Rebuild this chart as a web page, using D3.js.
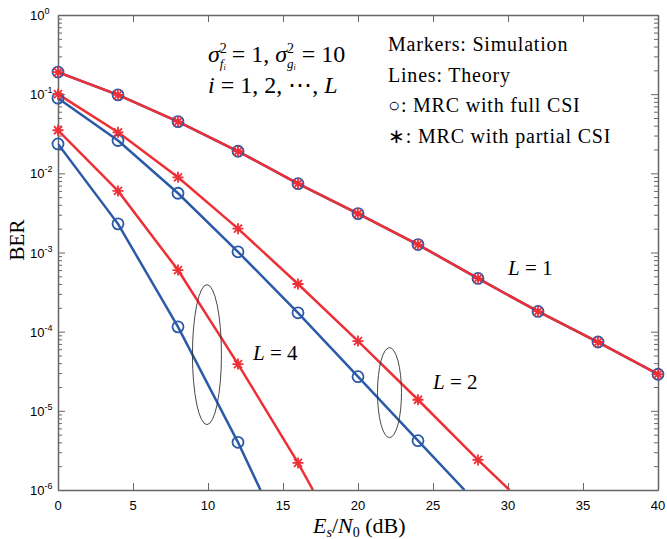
<!DOCTYPE html>
<html>
<head>
<meta charset="utf-8">
<script src="https://cdn.jsdelivr.net/npm/d3@7"></script>
<style>
  body { margin: 0; background: #fff; }
  .tick text { display: none; }
</style>
</head>
<body>
<script>
// data
const snr = [0, 4, 8, 12, 16, 20, 24, 28, 32, 36, 40];

// simulation markers (BER)
const fullL1 = [0.19, 0.098, 0.045, 0.019, 0.0074, 0.0031, 0.00126, 4.7e-4, 1.8e-4, 7.4e-5, 2.9e-5];
const partL1 = [0.19, 0.098, 0.045, 0.019, 0.0074, 0.0031, 0.00126, 4.7e-4, 1.8e-4, 7.4e-5, 2.9e-5];
const fullL2 = [0.089, 0.026, 0.0056, 1.02e-3, 1.73e-4, 2.7e-5, 4.2e-6];
const partL2 = [0.1, 0.033, 0.0089, 0.002, 4.0e-4, 7.6e-5, 1.38e-5, 2.4e-6];
const fullL4 = [0.0235, 2.3e-3, 1.15e-4, 4.0e-6];
const partL4 = [0.035, 6.0e-3, 6.0e-4, 3.9e-5, 2.2e-6];

// where each theory line leaves the bottom of the plot (x at BER = 1e-6)
const endX = { fullL2: 27.1, partL2: 30.1, fullL4: 13.5, partL4: 17.0 };

const xTicks = [0, 5, 10, 15, 20, 25, 30, 35, 40];
const yExps = [0, -1, -2, -3, -4, -5, -6];

const red = "#ee2f36", blue = "#2a5aa8";

const margin = { top: 15, right: 9, bottom: 49, left: 58 },
  width = 667 - margin.left - margin.right,
  height = 539 - margin.top - margin.bottom;

const x = d3.scaleLinear().domain([0, 40]).range([0, width]);
const y = d3.scaleLog().domain([1e-6, 1]).range([height, 0]);

const svg = d3.select("body").append("svg")
  .attr("width", 667).attr("height", 539)
  .append("g")
  .attr("transform", `translate(${margin.left},${margin.top})`);

//minor ticks
const minor = [];
yExps.slice(1).forEach(e => { for (let k = 2; k <= 9; k++) minor.push(k * Math.pow(10, e)); });

const axisColor = "#666";
function styleAxis(g) {
  g.select(".domain").attr("stroke", axisColor).attr("stroke-width", 1.5);
  g.selectAll(".tick line").attr("stroke", axisColor).attr("stroke-width", 1);
}

svg.append("g").attr("transform", `translate(0,${height})`)
  .call(d3.axisBottom(x).tickValues(xTicks).tickSizeInner(-7).tickSizeOuter(0)).call(styleAxis);
svg.append("g")
  .call(d3.axisTop(x).tickValues(xTicks).tickSizeInner(-7).tickSizeOuter(0)).call(styleAxis);
svg.append("g")
  .call(d3.axisLeft(y).tickValues(yExps.map(e => Math.pow(10, e))).tickSizeInner(-7).tickSizeOuter(0)).call(styleAxis);
svg.append("g")
  .call(d3.axisLeft(y).tickValues(minor).tickSizeInner(-4).tickSizeOuter(0)).call(styleAxis)
  .select(".domain").remove();
svg.append("g").attr("transform", `translate(${width},0)`)
  .call(d3.axisRight(y).tickValues(yExps.map(e => Math.pow(10, e))).tickSizeInner(-7).tickSizeOuter(0)).call(styleAxis);
svg.append("g").attr("transform", `translate(${width},0)`)
  .call(d3.axisRight(y).tickValues(minor).tickSizeInner(-4).tickSizeOuter(0)).call(styleAxis)
  .select(".domain").remove();

// tick labels
svg.append("g").selectAll("text").data(xTicks).enter().append("text")
  .attr("x", d => x(d)).attr("y", height + 20)
  .attr("text-anchor", "middle")
  .style("font-family", "Liberation Sans, Arial, sans-serif").style("font-size", "13px")
  .text(d => d);

const yl = svg.append("g").selectAll("text").data(yExps).enter().append("text")
  .attr("x", -28).attr("y", d => y(Math.pow(10, d)) + 5)
  .style("font-family", "Liberation Sans, Arial, sans-serif").style("font-size", "13px");
yl.append("tspan").text("10");
yl.append("tspan").attr("dy", -6).style("font-size", "9px").text(d => d);

// clip for lines
svg.append("clipPath").attr("id", "clip").append("rect")
  .attr("width", width).attr("height", height);

const line = d3.line().x(d => x(d[0])).y(d => y(d[1]));

function theory(vals, xend) {
  const pts = vals.map((v, i) => [snr[i], v]);
  if (xend !== undefined) pts.push([xend, 1e-6]);
  return pts;
}

const plot = svg.append("g").attr("clip-path", "url(#clip)");

const curves = [
  { pts: theory(fullL4, endX.fullL4), c: blue },
  { pts: theory(partL4, endX.partL4), c: red },
  { pts: theory(fullL2, endX.fullL2), c: blue },
  { pts: theory(partL2, endX.partL2), c: red },
  { pts: theory(fullL1), c: blue },
  { pts: theory(partL1), c: red }
];
curves.forEach(cv => {
  plot.append("path").datum(cv.pts)
    .attr("d", line).attr("fill", "none")
    .attr("stroke", cv.c).attr("stroke-width", 2.5);
});

// circles (full CSI)
[fullL1, fullL2, fullL4].forEach(arr => {
  svg.append("g").selectAll("circle").data(arr).enter().append("circle")
    .attr("cx", (d, i) => x(snr[i])).attr("cy", d => y(d))
    .attr("r", 5.5).attr("fill", "none")
    .attr("stroke", blue).attr("stroke-width", 1.8);
});

// stars (partial CSI)
const star = "M-5.5,0L5.5,0M0,-5.5L0,5.5M-4,-4L4,4M-4,4L4,-4";
[partL1, partL2, partL4].forEach(arr => {
  svg.append("g").selectAll("path").data(arr).enter().append("path")
    .attr("transform", (d, i) => `translate(${x(snr[i])},${y(d)})`)
    .attr("d", star).attr("fill", "none")
    .attr("stroke", red).attr("stroke-width", 1.8);
});

// ellipses
const ellipses = [
  { cx: 9.93, cy: Math.pow(10, -4.29), rx: 14.5, ry: 70 },
  { cx: 22.1, cy: Math.pow(10, -4.77), rx: 12, ry: 45 }
];
svg.selectAll(".ell").data(ellipses).enter().append("ellipse")
  .attr("cx", d => x(d.cx)).attr("cy", d => y(d.cy))
  .attr("rx", d => d.rx).attr("ry", d => d.ry)
  .attr("fill", "none").attr("stroke", "#333").attr("stroke-width", 0.9);

const serif = "Liberation Serif, Times New Roman, serif";

// L labels
const lLabels = [
  { t: "4", x: 13.0, y: Math.pow(10, -4.36) },
  { t: "2", x: 25.0, y: Math.pow(10, -4.73) },
  { t: "1", x: 30.0, y: Math.pow(10, -3.28) }
];
const ll = svg.selectAll(".llab").data(lLabels).enter().append("text")
  .attr("x", d => x(d.x)).attr("y", d => y(d.y))
  .style("font-family", serif).style("font-size", "21px");
ll.append("tspan").style("font-style", "italic").text("L");
ll.append("tspan").text(d => " = " + d.t);

// parameter text
const p1 = svg.append("text").attr("x", 208 - margin.left).attr("y", 62 - margin.top)
  .style("font-family", serif).style("font-size", "24px");
p1.append("tspan").style("font-style", "italic").text("σ");
p1.append("tspan").attr("dy", -9).style("font-size", "14px").text("2");
p1.append("tspan").attr("dx", -7).attr("dy", 15).style("font-size", "13px").style("font-style", "italic").text("f");
p1.append("tspan").attr("dy", 2).style("font-size", "8px").style("font-style", "italic").text("i");
p1.append("tspan").attr("dy", -8).text(" = 1, ");
p1.append("tspan").style("font-style", "italic").text("σ");
p1.append("tspan").attr("dy", -9).style("font-size", "14px").text("2");
p1.append("tspan").attr("dx", -7).attr("dy", 15).style("font-size", "13px").style("font-style", "italic").text("g");
p1.append("tspan").attr("dy", 2).style("font-size", "8px").style("font-style", "italic").text("i");
p1.append("tspan").attr("dy", -8).text(" = 10");

const p2 = svg.append("text").attr("x", 208 - margin.left).attr("y", 93 - margin.top)
  .style("font-family", serif).style("font-size", "24px");
p2.append("tspan").style("font-style", "italic").text("i");
p2.append("tspan").text(" = 1, 2, ⋯, ");
p2.append("tspan").style("font-style", "italic").text("L");

// legend text
const legendLines = ["Markers: Simulation", "Lines: Theory", "○: MRC with full CSI", "∗: MRC with partial CSI"];
svg.selectAll(".leg").data(legendLines).enter().append("text")
  .attr("x", 388 - margin.left).attr("y", (d, i) => 51 - margin.top + i * 30.5)
  .style("font-family", serif).style("font-size", "20px")
  .style("letter-spacing", "0.8px")
  .text(d => d);

// axis titles
svg.append("text")
  .attr("transform", `translate(${24 - margin.left},${240 - margin.top}) rotate(-90)`)
  .attr("text-anchor", "middle")
  .style("font-family", serif).style("font-size", "21px")
  .text("BER");

const xl = svg.append("text")
  .attr("x", 313 - margin.left).attr("y", height + 43)
  .style("font-family", serif).style("font-size", "22px");
xl.append("tspan").style("font-style", "italic").text("E");
xl.append("tspan").attr("dy", 4).style("font-size", "14px").style("font-style", "italic").text("s");
xl.append("tspan").attr("dy", -4).text("/");
xl.append("tspan").style("font-style", "italic").text("N");
xl.append("tspan").attr("dy", 4).style("font-size", "14px").text("0");
xl.append("tspan").attr("dy", -4).text(" (dB)");
</script>
</body>
</html>
